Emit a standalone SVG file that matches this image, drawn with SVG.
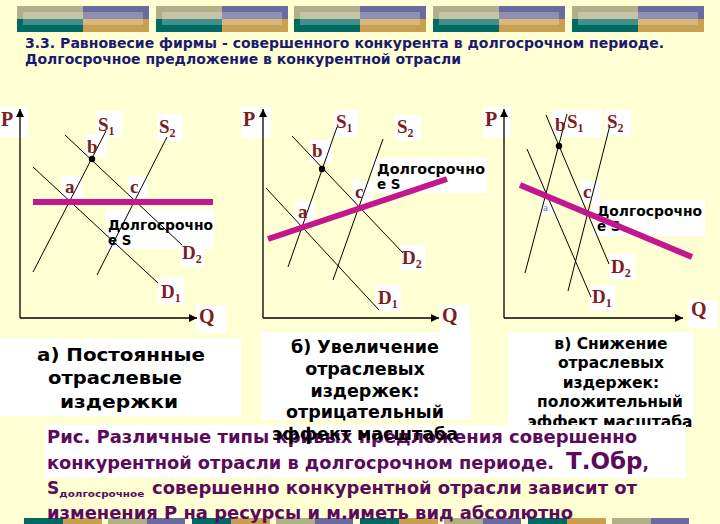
<svg xmlns="http://www.w3.org/2000/svg" width="720" height="524" viewBox="0 0 720 524">
<defs>
<style>
.bg{fill:#FFFFD4}
.box{fill:#FFFFFF}
.ax{stroke:#000;stroke-width:1.3;fill:none}
.ln{stroke:#000;stroke-width:1;fill:none}
.mg{stroke:#C4168E;stroke-width:6;stroke-linecap:butt}
.lb{font-family:"Liberation Serif","Times New Roman",serif;font-weight:bold;fill:#7A1E1E}
.big{font-size:20px}
.mid{font-size:19px}
.sub{font-size:12px}
.ls{font-family:"DejaVu Sans",sans-serif;font-weight:bold;font-size:13.5px;fill:#000}
.cap{font-family:"DejaVu Sans",sans-serif;font-weight:bold;fill:#000;text-anchor:middle}
.ttl{font-family:"DejaVu Sans",sans-serif;font-weight:bold;font-size:14px;fill:#1A1A70}
.bt{font-family:"DejaVu Sans",sans-serif;font-weight:bold;font-size:17px;fill:#5C0A5C}
</style>
<marker id="arr" viewBox="0 0 10 10" refX="10" refY="5" markerWidth="8" markerHeight="8" markerUnits="userSpaceOnUse" orient="auto">
<path d="M0,0 L10,5 L0,10 z" fill="#000"/>
</marker>
<g id="hdrTile">
<rect x="0" y="0" width="66" height="13" fill="#B0B088"/>
<rect x="66" y="0" width="66" height="13" fill="#6A6A9E"/>
<rect x="0" y="13" width="66" height="13" fill="#006A62"/>
<rect x="66" y="13" width="66" height="13" fill="#C8A050"/>
<rect x="6" y="6" width="120" height="13" fill="#FFFFFF" opacity="0.25"/>
</g>
<g id="ftTile">
<rect x="0" y="0" width="39" height="6" fill="#006A62"/>
<rect x="39" y="0" width="39" height="6" fill="#C8A050"/>
<rect x="84" y="0" width="39" height="6" fill="#B0B088"/>
<rect x="123" y="0" width="38" height="6" fill="#6A6A9E"/>
</g>
</defs>
<rect class="bg" x="0" y="0" width="720" height="524"/>

<g id="header">
<use href="#hdrTile" x="17" y="6"/>
<use href="#hdrTile" x="156" y="6"/>
<use href="#hdrTile" x="294" y="6"/>
<use href="#hdrTile" x="433" y="6"/>
<use href="#hdrTile" x="572" y="6"/>
</g>

<g id="footer">
<use href="#ftTile" x="24" y="518"/>
<use href="#ftTile" x="192" y="518"/>
<use href="#ftTile" x="360" y="518"/>
<use href="#ftTile" x="528" y="518"/>
</g>

<g id="title">
<text class="ttl" x="25" y="48" textLength="639" lengthAdjust="spacingAndGlyphs">3.3. Равновесие фирмы - совершенного конкурента в долгосрочном периоде.</text>
<text class="ttl" x="25" y="64" textLength="436" lengthAdjust="spacingAndGlyphs">Долгосрочное предложение в конкурентной отрасли</text>
</g>

<!-- Panel a -->
<g id="panel-a">
<rect class="box" x="0" y="107" width="28" height="30"/>
<rect class="box" x="96" y="111" width="26" height="26"/>
<rect class="box" x="157" y="114" width="26" height="27"/>
<rect class="box" x="85" y="135" width="22" height="22"/>
<rect class="box" x="62" y="176" width="20" height="22"/>
<rect class="box" x="128" y="176" width="20" height="22"/>
<rect class="box" x="106" y="209" width="108" height="40"/>
<rect class="box" x="180" y="240" width="24" height="27"/>
<rect class="box" x="158" y="278" width="26" height="26"/>
<rect class="box" x="196" y="305" width="30" height="28"/>
<line class="ax" x1="20" y1="318" x2="20" y2="109" marker-end="url(#arr)"/>
<line class="ax" x1="20" y1="318" x2="197" y2="318" marker-end="url(#arr)"/>
<line class="ln" x1="33" y1="272" x2="106" y2="131"/>
<line class="ln" x1="97" y1="275" x2="167" y2="137"/>
<line class="ln" x1="33" y1="167" x2="158" y2="283"/>
<line class="ln" x1="65" y1="135" x2="182" y2="245"/>
<line class="mg" x1="33" y1="202" x2="213" y2="202"/>
<circle cx="92" cy="159" r="3.2" fill="#000"/>
<text class="lb big" x="1" y="126">P</text>
<text class="lb mid" x="98" y="131">S<tspan class="sub" dy="4">1</tspan></text>
<text class="lb mid" x="159" y="133">S<tspan class="sub" dy="4">2</tspan></text>
<text class="lb mid" x="87" y="153">b</text>
<text class="lb mid" x="65" y="193">a</text>
<text class="lb mid" x="130" y="193">c</text>
<text class="ls" x="108" y="230" textLength="105" lengthAdjust="spacingAndGlyphs">Долгосрочно</text>
<text class="ls" x="108" y="245">е S</text>
<text class="lb mid" x="182" y="259">D<tspan class="sub" dy="4">2</tspan></text>
<text class="lb mid" x="161" y="298">D<tspan class="sub" dy="4">1</tspan></text>
<text class="lb big" x="199" y="323">Q</text>
</g>

<!-- Panel b -->
<g id="panel-b">
<rect class="box" x="241" y="107" width="30" height="31"/>
<rect class="box" x="334" y="110" width="24" height="27"/>
<rect class="box" x="395" y="115" width="26" height="26"/>
<rect class="box" x="310" y="140" width="22" height="22"/>
<rect class="box" x="295" y="201" width="20" height="22"/>
<rect class="box" x="352" y="181" width="20" height="22"/>
<rect class="box" x="373" y="158" width="114" height="35"/>
<rect class="box" x="400" y="245" width="25" height="26"/>
<rect class="box" x="376" y="285" width="25" height="26"/>
<rect class="box" x="440" y="305" width="30" height="28"/>
<line class="ax" x1="263" y1="318" x2="263" y2="109" marker-end="url(#arr)"/>
<line class="ax" x1="263" y1="318" x2="439" y2="318" marker-end="url(#arr)"/>
<line class="ln" x1="288" y1="267" x2="337" y2="127"/>
<line class="ln" x1="333" y1="280" x2="383" y2="139"/>
<line class="ln" x1="266" y1="188" x2="379" y2="310"/>
<line class="ln" x1="292" y1="136" x2="403" y2="253"/>
<line class="mg" x1="268" y1="239" x2="447" y2="179"/>
<circle cx="322" cy="169" r="3.2" fill="#000"/>
<text class="lb big" x="243" y="126">P</text>
<text class="lb mid" x="336" y="128">S<tspan class="sub" dy="4">1</tspan></text>
<text class="lb mid" x="397" y="133">S<tspan class="sub" dy="4">2</tspan></text>
<text class="lb mid" x="312" y="157">b</text>
<text class="lb mid" x="298" y="218">a</text>
<text class="lb mid" x="355" y="198">c</text>
<text class="ls" x="377" y="174" textLength="108" lengthAdjust="spacingAndGlyphs">Долгосрочно</text>
<text class="ls" x="377" y="189">е S</text>
<text class="lb mid" x="402" y="264">D<tspan class="sub" dy="4">2</tspan></text>
<text class="lb mid" x="378" y="304">D<tspan class="sub" dy="4">1</tspan></text>
<text class="lb big" x="442" y="322">Q</text>
</g>

<!-- Panel c -->
<g id="panel-c">
<rect class="box" x="483" y="107" width="28" height="31"/>
<rect class="box" x="552" y="110" width="50" height="27"/>
<rect class="box" x="605" y="110" width="26" height="26"/>
<rect class="box" x="541" y="200" width="14" height="15"/>
<rect class="box" x="580" y="181" width="20" height="22"/>
<rect class="box" x="593" y="200" width="112" height="36"/>
<rect class="box" x="609" y="254" width="26" height="26"/>
<rect class="box" x="590" y="285" width="25" height="26"/>
<rect class="box" x="688" y="300" width="30" height="28"/>
<line class="ax" x1="504" y1="318" x2="504" y2="109" marker-end="url(#arr)"/>
<line class="ax" x1="504" y1="318" x2="683" y2="318" marker-end="url(#arr)"/>
<line class="ln" x1="525" y1="273" x2="567" y2="114"/>
<line class="ln" x1="568" y1="291" x2="610" y2="125"/>
<line class="ln" x1="527" y1="149" x2="591" y2="297"/>
<line class="ln" x1="546" y1="115" x2="609" y2="264"/>
<circle cx="559" cy="146" r="3.2" fill="#000"/>
<text class="lb big" x="485" y="126">P</text>
<text class="lb mid" x="555" y="131">b</text>
<text class="lb mid" x="567" y="128">S<tspan class="sub" dy="4">1</tspan></text>
<text class="lb mid" x="607" y="128">S<tspan class="sub" dy="4">2</tspan></text>
<text x="543" y="211" font-family="Liberation Serif, serif" font-size="11" fill="#7A7A9A">a</text>
<text class="lb mid" x="583" y="198">c</text>
<text class="ls" x="597" y="216" textLength="105" lengthAdjust="spacingAndGlyphs">Долгосрочно</text>
<text class="ls" x="597" y="231">е S</text>
<line class="mg" x1="520" y1="185" x2="692" y2="257"/>
<text class="lb mid" x="611" y="273">D<tspan class="sub" dy="4">2</tspan></text>
<text class="lb mid" x="592" y="303">D<tspan class="sub" dy="4">1</tspan></text>
<text class="lb big" x="691" y="316">Q</text>
</g>

<!-- Caption a -->
<g id="caption-a">
<rect class="box" x="0" y="339" width="241" height="77"/>
<text class="cap" font-size="18.5" x="121" y="361" textLength="168" lengthAdjust="spacingAndGlyphs">а) Постоянные</text>
<text class="cap" font-size="18.5" x="115" y="384" textLength="134" lengthAdjust="spacingAndGlyphs">отраслевые</text>
<text class="cap" font-size="18.5" x="119" y="408" textLength="118" lengthAdjust="spacingAndGlyphs">издержки</text>
</g>

<!-- Caption c -->
<g id="caption-c">
<rect class="box" x="508" y="332" width="186" height="95"/>
<text class="cap" font-size="15.5" x="611" y="349">в) Снижение</text>
<text class="cap" font-size="15.5" x="611" y="368">отраслевых</text>
<text class="cap" font-size="15.5" x="611" y="388">издержек:</text>
<text class="cap" font-size="15.5" x="610" y="407">положительный</text>
<text class="cap" font-size="15.5" x="610" y="427">эффект масштаба</text>
</g>

<!-- Bottom text -->
<g id="bottom-text">
<rect class="box" x="45" y="425" width="641" height="53"/>
<text class="bt" x="47" y="443" textLength="590" lengthAdjust="spacingAndGlyphs">Рис. Различные типы кривых предложения совершенно</text>
<text class="bt" x="47" y="469"><tspan textLength="507" lengthAdjust="spacingAndGlyphs">конкурентной отрасли в долгосрочном периоде.</tspan><tspan font-size="23" x="566">Т.Обр</tspan><tspan>,</tspan></text>
<text class="bt" x="47" y="494">S<tspan font-size="9" dy="3" textLength="85" lengthAdjust="spacingAndGlyphs">долгосрочное</tspan><tspan x="152" dy="-3" textLength="485" lengthAdjust="spacingAndGlyphs">совершенно конкурентной отрасли зависит от</tspan></text>
<text class="bt" x="47" y="519" textLength="526" lengthAdjust="spacingAndGlyphs">изменения Р на ресурсы и м.иметь вид абсолютно</text>
</g>

<!-- Caption b -->
<g id="caption-b">
<rect class="box" x="261" y="332" width="210" height="88"/>
<text class="cap" font-size="17.5" x="365" y="353">б) Увеличение</text>
<text class="cap" font-size="17.5" x="365" y="375">отраслевых</text>
<text class="cap" font-size="17.5" x="365" y="397">издержек:</text>
<text class="cap" font-size="17.5" x="365" y="418">отрицательный</text>
<text class="cap" font-size="17.5" x="365" y="440">эффект масштаба</text>
</g>
</svg>
